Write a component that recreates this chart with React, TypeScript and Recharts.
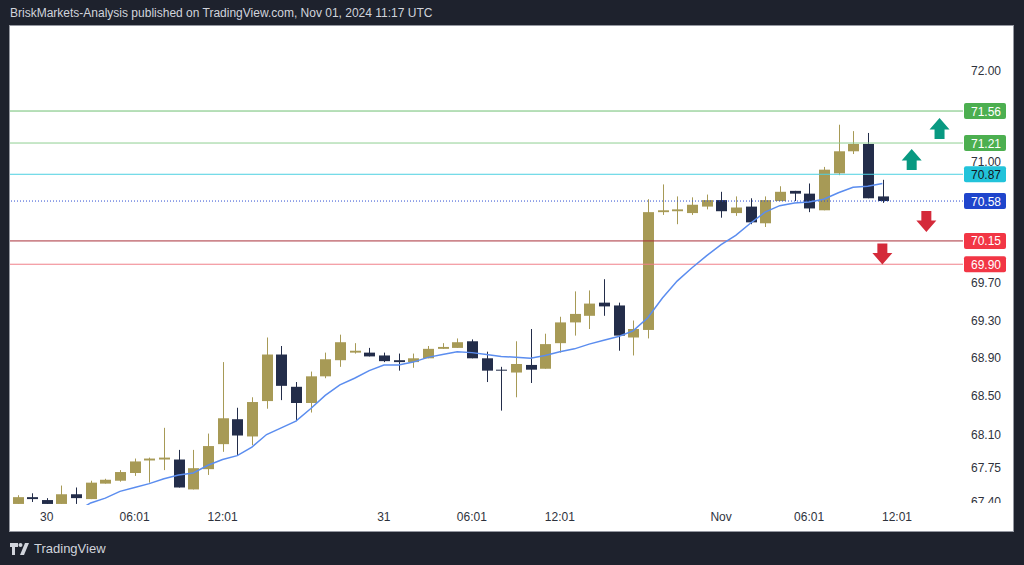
import { ComposedChart, Bar, Line, XAxis, YAxis, ReferenceLine, ReferenceDot } from 'recharts'

// hourly candles, Oct 29 22:00 .. Nov 01 11:00 UTC
const opens = [
  67.38, 67.45, 67.42, 67.38, 67.48, 67.43, 67.59, 67.62, 67.7, 67.83,
  67.84, 67.84, 67.53, 67.74, 68.0, 68.26, 68.08, 68.45, 68.94, 68.6,
  68.43, 68.71, 68.88, 68.96, 68.96, 68.93, 68.88, 68.86, 68.9, 69.0,
  69.01, 69.08, 68.9, 68.78, 68.75, 68.83, 68.79, 69.06, 69.28, 69.35,
  69.49, 69.46, 69.12, 69.2, 70.46, 70.47, 70.45, 70.52, 70.59, 70.45,
  70.52, 70.34, 70.58, 70.69, 70.66, 70.48, 70.88, 71.12, 71.2, 70.63,
]
const highs = [
  67.47, 67.49, 67.44, 67.57, 67.55, 67.62, 67.64, 67.73, 67.85, 67.86,
  68.17, 67.94, 67.94, 68.11, 68.86, 68.38, 68.49, 69.12, 69.03, 68.65,
  68.76, 68.96, 69.15, 69.06, 69.01, 68.96, 68.95, 68.95, 69.03, 69.06,
  69.11, 69.1, 68.97, 68.81, 69.08, 69.21, 69.16, 69.34, 69.61, 69.62,
  69.74, 69.49, 69.3, 70.6, 70.76, 70.63, 70.62, 70.65, 70.68, 70.63,
  70.61, 70.63, 70.74, 70.69, 70.77, 70.95, 71.41, 71.34, 71.32, 70.81,
]
const lows = [
  67.38, 67.4, 67.38, 67.38, 67.38, 67.43, 67.59, 67.61, 67.67, 67.6,
  67.73, 67.55, 67.53, 67.68, 67.92, 67.88, 67.99, 68.37, 68.46, 68.24,
  68.33, 68.69, 68.81, 68.95, 68.92, 68.86, 68.77, 68.8, 68.9, 69.0,
  69.01, 68.9, 68.65, 68.35, 68.49, 68.64, 68.79, 68.96, 69.14, 69.21,
  69.35, 68.98, 68.93, 69.11, 70.43, 70.33, 70.43, 70.49, 70.4, 70.42,
  70.33, 70.3, 70.58, 70.58, 70.46, 70.48, 70.86, 71.09, 70.61, 70.56,
]
const closes = [
  67.45, 67.43, 67.38, 67.48, 67.44, 67.6, 67.63, 67.71, 67.82, 67.85,
  67.86, 67.55, 67.75, 67.98, 68.27, 68.09, 68.44, 68.94, 68.61, 68.43,
  68.71, 68.89, 69.07, 68.98, 68.92, 68.87, 68.86, 68.9, 69.0, 69.02,
  69.07, 68.9, 68.77, 68.77, 68.84, 68.78, 69.05, 69.28, 69.37, 69.48,
  69.45, 69.14, 69.21, 70.46, 70.48, 70.49, 70.54, 70.59, 70.47, 70.51,
  70.35, 70.59, 70.68, 70.66, 70.5, 70.92, 71.12, 71.2, 70.61, 70.58,
]
// moving average (blue), starts below the visible range
const ema = [
  null, null, null, null, 67.3, 67.39, 67.44, 67.51, 67.55, 67.59,
  67.64, 67.68, 67.7, 67.78, 67.84, 67.88, 67.97, 68.1, 68.17, 68.24,
  68.37, 68.51, 68.62, 68.69, 68.77, 68.83, 68.83, 68.86, 68.91, 68.94,
  68.97, 68.96, 68.94, 68.92, 68.91, 68.9, 68.93, 68.97, 69.0, 69.05,
  69.09, 69.13, 69.19, 69.33, 69.54, 69.72, 69.86, 69.99, 70.11, 70.21,
  70.34, 70.46, 70.53, 70.56, 70.57, 70.6, 70.67, 70.73, 70.74, 70.77,
]

const xTickIdx = [2, 8, 14, 25, 31, 37, 48, 54, 60]
const xTickLabels = ['30', '06:01', '12:01', '31', '06:01', '12:01', 'Nov', '06:01', '12:01']
const yTicks = [72, 71, 69.7, 69.3, 68.9, 68.5, 68.1, 67.75, 67.4]

const levels = [
  { price: 71.56, line: '#6fbf73', tag: '#4caf50', text: '#ffffff', dash: undefined },
  { price: 71.21, line: '#8fcf92', tag: '#4caf50', text: '#ffffff', dash: undefined },
  { price: 70.87, line: '#4dd0e1', tag: '#22c3da', text: '#131722', dash: undefined },
  { price: 70.58, line: '#2b4bd3', tag: '#1f45cc', text: '#ffffff', dash: '1 2' },
  { price: 70.15, line: '#a8303a', tag: '#f23645', text: '#ffffff', dash: undefined },
  { price: 69.9, line: '#f0808a', tag: '#f23645', text: '#ffffff', dash: undefined },
]

const arrows = [
  { idx: 62.9, price: 71.37, up: true },
  { idx: 61.0, price: 71.03, up: true },
  { idx: 62.0, price: 70.36, up: false },
  { idx: 59.0, price: 70.01, up: false },
]

const SLOTS = 65
const UP = '#a79a56'
const DOWN = '#232d4a'
const LABEL_CLIP = 477
const FONT = '"Liberation Sans", Arial, sans-serif'

const data = Array.from({ length: SLOTS }, (_, i) =>
  i < opens.length
    ? { i, range: [lows[i], highs[i]], open: opens[i], high: highs[i], low: lows[i], close: closes[i], ema: ema[i] }
    : { i, range: null, ema: null }
)

function Candle(props: any) {
  const { x, y, width, height, payload } = props
  if (!payload || payload.open == null) return null
  const { open, close, high, low } = payload
  const y0 = Math.min(y, y + height)
  const h = Math.abs(height)
  const lh = Math.log(high)
  const span = lh - Math.log(low) || 1
  const py = (v: number) => y0 + ((lh - Math.log(v)) / span) * h
  const color = close >= open ? UP : DOWN
  const cx = Math.round(x + width / 2) + 0.5
  const top = py(Math.max(open, close))
  const bot = py(Math.min(open, close))
  return (
    <g>
      <line x1={cx} x2={cx} y1={y0} y2={y0 + h} stroke={color} strokeWidth={1} />
      <rect x={cx - 5.5} y={top} width={11} height={Math.max(1, bot - top)} fill={color} />
    </g>
  )
}

function YTick({ x, y, payload }: any) {
  const top = y - 9
  const hgt = Math.max(0, Math.min(18, LABEL_CLIP - top))
  return (
    <svg x={x} y={top} width={50} height={hgt} overflow="hidden">
      <text x={38} y={13} textAnchor="end" fontSize={12} fontFamily={FONT} fill="#2e323c">
        {Number(payload.value).toFixed(2)}
      </text>
    </svg>
  )
}

function XTick({ x, y, payload }: any) {
  const k = xTickIdx.indexOf(payload.value)
  return (
    <text x={x} y={y + 16} textAnchor="middle" fontSize={12} fontFamily={FONT} fill="#2e323c">
      {k >= 0 ? xTickLabels[k] : ''}
    </text>
  )
}

function PriceTag({ viewBox, bg, fg, value }: any) {
  if (!viewBox) return null
  const bx = viewBox.x + viewBox.width + 1
  const by = viewBox.y
  return (
    <g>
      <rect x={bx} y={by - 8} width={42} height={16} rx={2} fill={bg} />
      <text x={bx + 37} y={by + 4.5} textAnchor="end" fontSize={12} fontFamily={FONT} fill={fg}>
        {value.toFixed(2)}
      </text>
    </g>
  )
}

function Arrow({ cx, cy, up }: any) {
  if (cx == null || cy == null) return null
  const s = up ? 1 : -1
  const pts = [
    [0, -10.5], [10, 1], [5, 1], [5, 10.5], [-5, 10.5], [-5, 1], [-10, 1],
  ].map(([px, py]) => `${cx + px},${cy + s * py}`).join(' ')
  return <polygon points={pts} fill={up ? '#089981' : '#d42a3a'} />
}

function Logo() {
  return (
    <svg width={20} height={12} viewBox="0 0 20 12">
      <path d="M0 0h8v4h-3v8h-3v-8h-2z" fill="#d1d4dc" />
      <circle cx={10.5} cy={2} r={2} fill="#d1d4dc" />
      <path d="M15 0h4l-5 12h-4z" fill="#d1d4dc" />
    </svg>
  )
}

export default function App() {
  return (
    <div style={{ position: 'absolute', left: 0, top: 0, width: 1024, height: 565, background: '#1e222d', overflow: 'hidden' }}>
      <div style={{ position: 'absolute', left: 10, top: 6, fontFamily: FONT, fontSize: 12, color: '#d1d4dc', whiteSpace: 'nowrap' }}>
        BriskMarkets-Analysis published on TradingView.com, Nov 01, 2024 11:17 UTC
      </div>
      <div style={{ position: 'absolute', left: 10, top: 26, width: 1003, height: 505, background: '#ffffff', boxShadow: '0 0 0 1px #9598a1' }}>
        <ComposedChart width={1003} height={505} data={data} margin={{ top: 1, right: 0, bottom: 0, left: 0 }}>
          <XAxis
            type="number"
            dataKey="i"
            domain={[-0.5, SLOTS - 0.5]}
            ticks={xTickIdx}
            interval={0}
            height={26}
            axisLine={false}
            tickLine={false}
            tickSize={0}
            tickMargin={0}
            tick={<XTick />}
          />
          <YAxis
            orientation="right"
            scale="log"
            domain={[67.369, 72.487]}
            allowDataOverflow
            ticks={yTicks}
            interval={0}
            width={50}
            axisLine={false}
            tickLine={false}
            tickSize={0}
            tickMargin={0}
            tick={<YTick />}
          />
          {levels.map((lv) => (
            <ReferenceLine
              key={lv.price}
              y={lv.price}
              stroke={lv.line}
              strokeWidth={1}
              strokeDasharray={lv.dash}
              label={<PriceTag bg={lv.tag} fg={lv.text} value={lv.price} />}
            />
          ))}
          <Bar dataKey="range" barSize={11} shape={<Candle />} isAnimationActive={false} />
          <Line
            type="linear"
            dataKey="ema"
            stroke="#5b8def"
            strokeWidth={1.5}
            dot={false}
            activeDot={false}
            isAnimationActive={false}
          />
          {arrows.map((a, k) => (
            <ReferenceDot key={k} x={a.idx} y={a.price} r={10} shape={<Arrow up={a.up} />} />
          ))}
        </ComposedChart>
      </div>
      <div style={{ position: 'absolute', left: 10, top: 541, display: 'flex', alignItems: 'center', gap: 4, fontFamily: FONT, fontSize: 13, color: '#d1d4dc' }}>
        <Logo />
        <span>TradingView</span>
      </div>
    </div>
  )
}
